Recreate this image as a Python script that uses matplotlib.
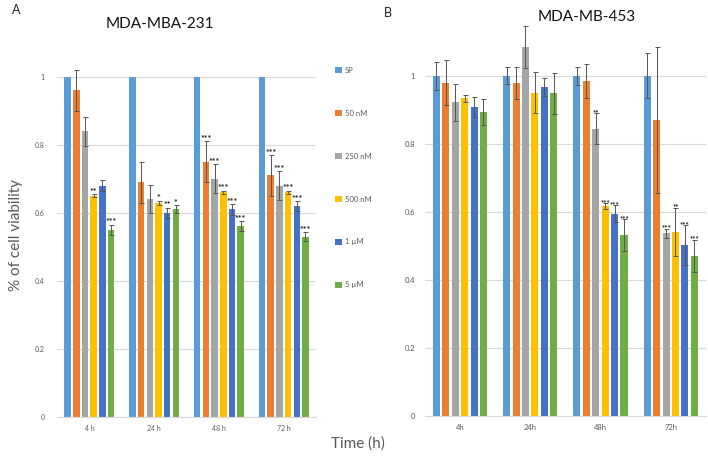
import numpy as np
from matplotlib import pyplot as plt
from matplotlib.patches import Patch

plt.rcParams['font.family'] = ['Lato', 'DejaVu Sans']

series = ['SP', '50 nM', '250 nM', '500 nM', '1 \u00b5M', '5 \u00b5M']
colors = ['#5B9BD5', '#ED7D31', '#A5A5A5', '#FFC000', '#4472C4', '#70AD47']

# MDA-MBA-231 (panel A), rows = series, cols = 4h, 24h, 48h, 72h
times_a = ['4 h', '24 h', '48 h', '72 h']
mean_a = [[1.0, 1.0, 1.0, 1.0],
          [0.96, 0.69, 0.75, 0.71],
          [0.84, 0.64, 0.70, 0.68],
          [0.65, 0.63, 0.66, 0.66],
          [0.68, 0.60, 0.61, 0.62],
          [0.55, 0.61, 0.56, 0.53]]
err_a = [[0, 0, 0, 0],
         [0.06, 0.06, 0.06, 0.06],
         [0.043, 0.042, 0.042, 0.042],
         [0.005, 0.006, 0.005, 0.005],
         [0.015, 0.015, 0.016, 0.015],
         [0.015, 0.012, 0.015, 0.012]]
sig_a = [['', '', '', ''],
         ['', '', '***', '***'],
         ['', '', '***', '***'],
         ['**', '*', '***', '***'],
         ['', '**', '***', '***'],
         ['***', '*', '***', '***']]

# MDA-MB-453 (panel B)
times_b = ['4h', '24h', '48h', '72h']
mean_b = [[1.0, 1.0, 1.0, 1.0],
          [0.98, 0.979, 0.986, 0.87],
          [0.922, 1.086, 0.845, 0.537],
          [0.934, 0.951, 0.618, 0.542],
          [0.909, 0.968, 0.595, 0.503],
          [0.893, 0.949, 0.532, 0.471]]
err_b = [[0.042, 0.025, 0.027, 0.066],
         [0.066, 0.046, 0.05, 0.215],
         [0.054, 0.062, 0.045, 0.014],
         [0.01, 0.061, 0.008, 0.071],
         [0.03, 0.026, 0.025, 0.058],
         [0.038, 0.06, 0.047, 0.047]]
sig_b = [['', '', '', ''],
         ['', '', '', ''],
         ['', '', '**', '***'],
         ['', '', '***', '**'],
         ['', '', '***', '***'],
         ['', '', '***', '***']]

grey = '#595959'


def panel(ax, times, means, errs, sigs, ymax, tick_fs, ypad, draw_zero_err, star_fs):
    x = np.arange(len(times))
    step = 0.134
    width = 0.1
    for i in range(len(series)):
        pos = x + (i - 2.5) * step
        e = errs[i]
        if not draw_zero_err and max(e) == 0:
            e = None
        ax.bar(pos, means[i], width, color=colors[i], zorder=2,
               yerr=e, ecolor='#555555', error_kw=dict(elinewidth=0.7, capsize=1.8, capthick=0.7))
        for j in range(len(times)):
            if sigs[i][j]:
                top = means[i][j] + errs[i][j]
                ax.text(pos[j], top - 0.008, sigs[i][j], ha='center', va='bottom',
                        fontsize=star_fs, fontweight='bold', color='#222222')
    ax.set_xticks(x)
    ax.set_xticklabels(times)
    ax.set_xlim(-0.5, len(times) - 0.5)
    ax.set_ylim(0, ymax)
    ax.set_yticks([0, 0.2, 0.4, 0.6, 0.8, 1.0])
    ax.set_yticklabels(['0', '0.2', '0.4', '0.6', '0.8', '1'])
    ax.tick_params(length=0, labelsize=tick_fs, colors=grey)
    ax.tick_params(axis='y', pad=ypad)
    ax.tick_params(axis='x', pad=6)
    ax.grid(axis='y', color='#D9D9D9', linewidth=0.8, zorder=0)
    for s in ['top', 'right', 'left']:
        ax.spines[s].set_visible(False)
    ax.spines['bottom'].set_color('#D9D9D9')


fig = plt.figure(figsize=(7.08, 4.57), dpi=100)

ax1 = fig.add_axes([0.0805, 0.0882, 0.366, 0.781])
panel(ax1, times_a, mean_a, err_a, sig_a, 1.05, 5, 9, False, 6.5)
fig.text(160 / 708, 1 - 24 / 457, 'MDA-MBA-231', fontsize=11, color='#111111', ha='center', va='center')

ax2 = fig.add_axes([0.600, 0.0897, 0.397, 0.893])
panel(ax2, times_b, mean_b, err_b, sig_b, 1.2, 5.5, 7, True, 5.5)
fig.text(587 / 708, 1 - 17 / 457, 'MDA-MB-453', fontsize=11, color='#111111', ha='center', va='center')

fig.text(12 / 708, 1 - 10 / 457, 'A', fontsize=9, color='#222222', ha='left', va='center')
fig.text(384 / 708, 1 - 13 / 457, 'B', fontsize=9, color='#222222', ha='left', va='center')

fig.text(358 / 708, 1 - 444 / 457, 'Time (h)', fontsize=11, color=grey, ha='center', va='center')
fig.text(16 / 708, 1 - 235 / 457, '% of cell viability', fontsize=11, color=grey,
         ha='center', va='center', rotation=90)

handles = [Patch(facecolor=c, edgecolor='none') for c in colors]
fig.legend(handles, series, loc='upper left', bbox_to_anchor=(328 / 708, 1 - 60 / 457),
           frameon=False, fontsize=5.5, labelcolor=grey, handlelength=0.9, handleheight=0.9,
           handletextpad=0.4, labelspacing=4.7)

fig.savefig('out.png', dpi=100)
